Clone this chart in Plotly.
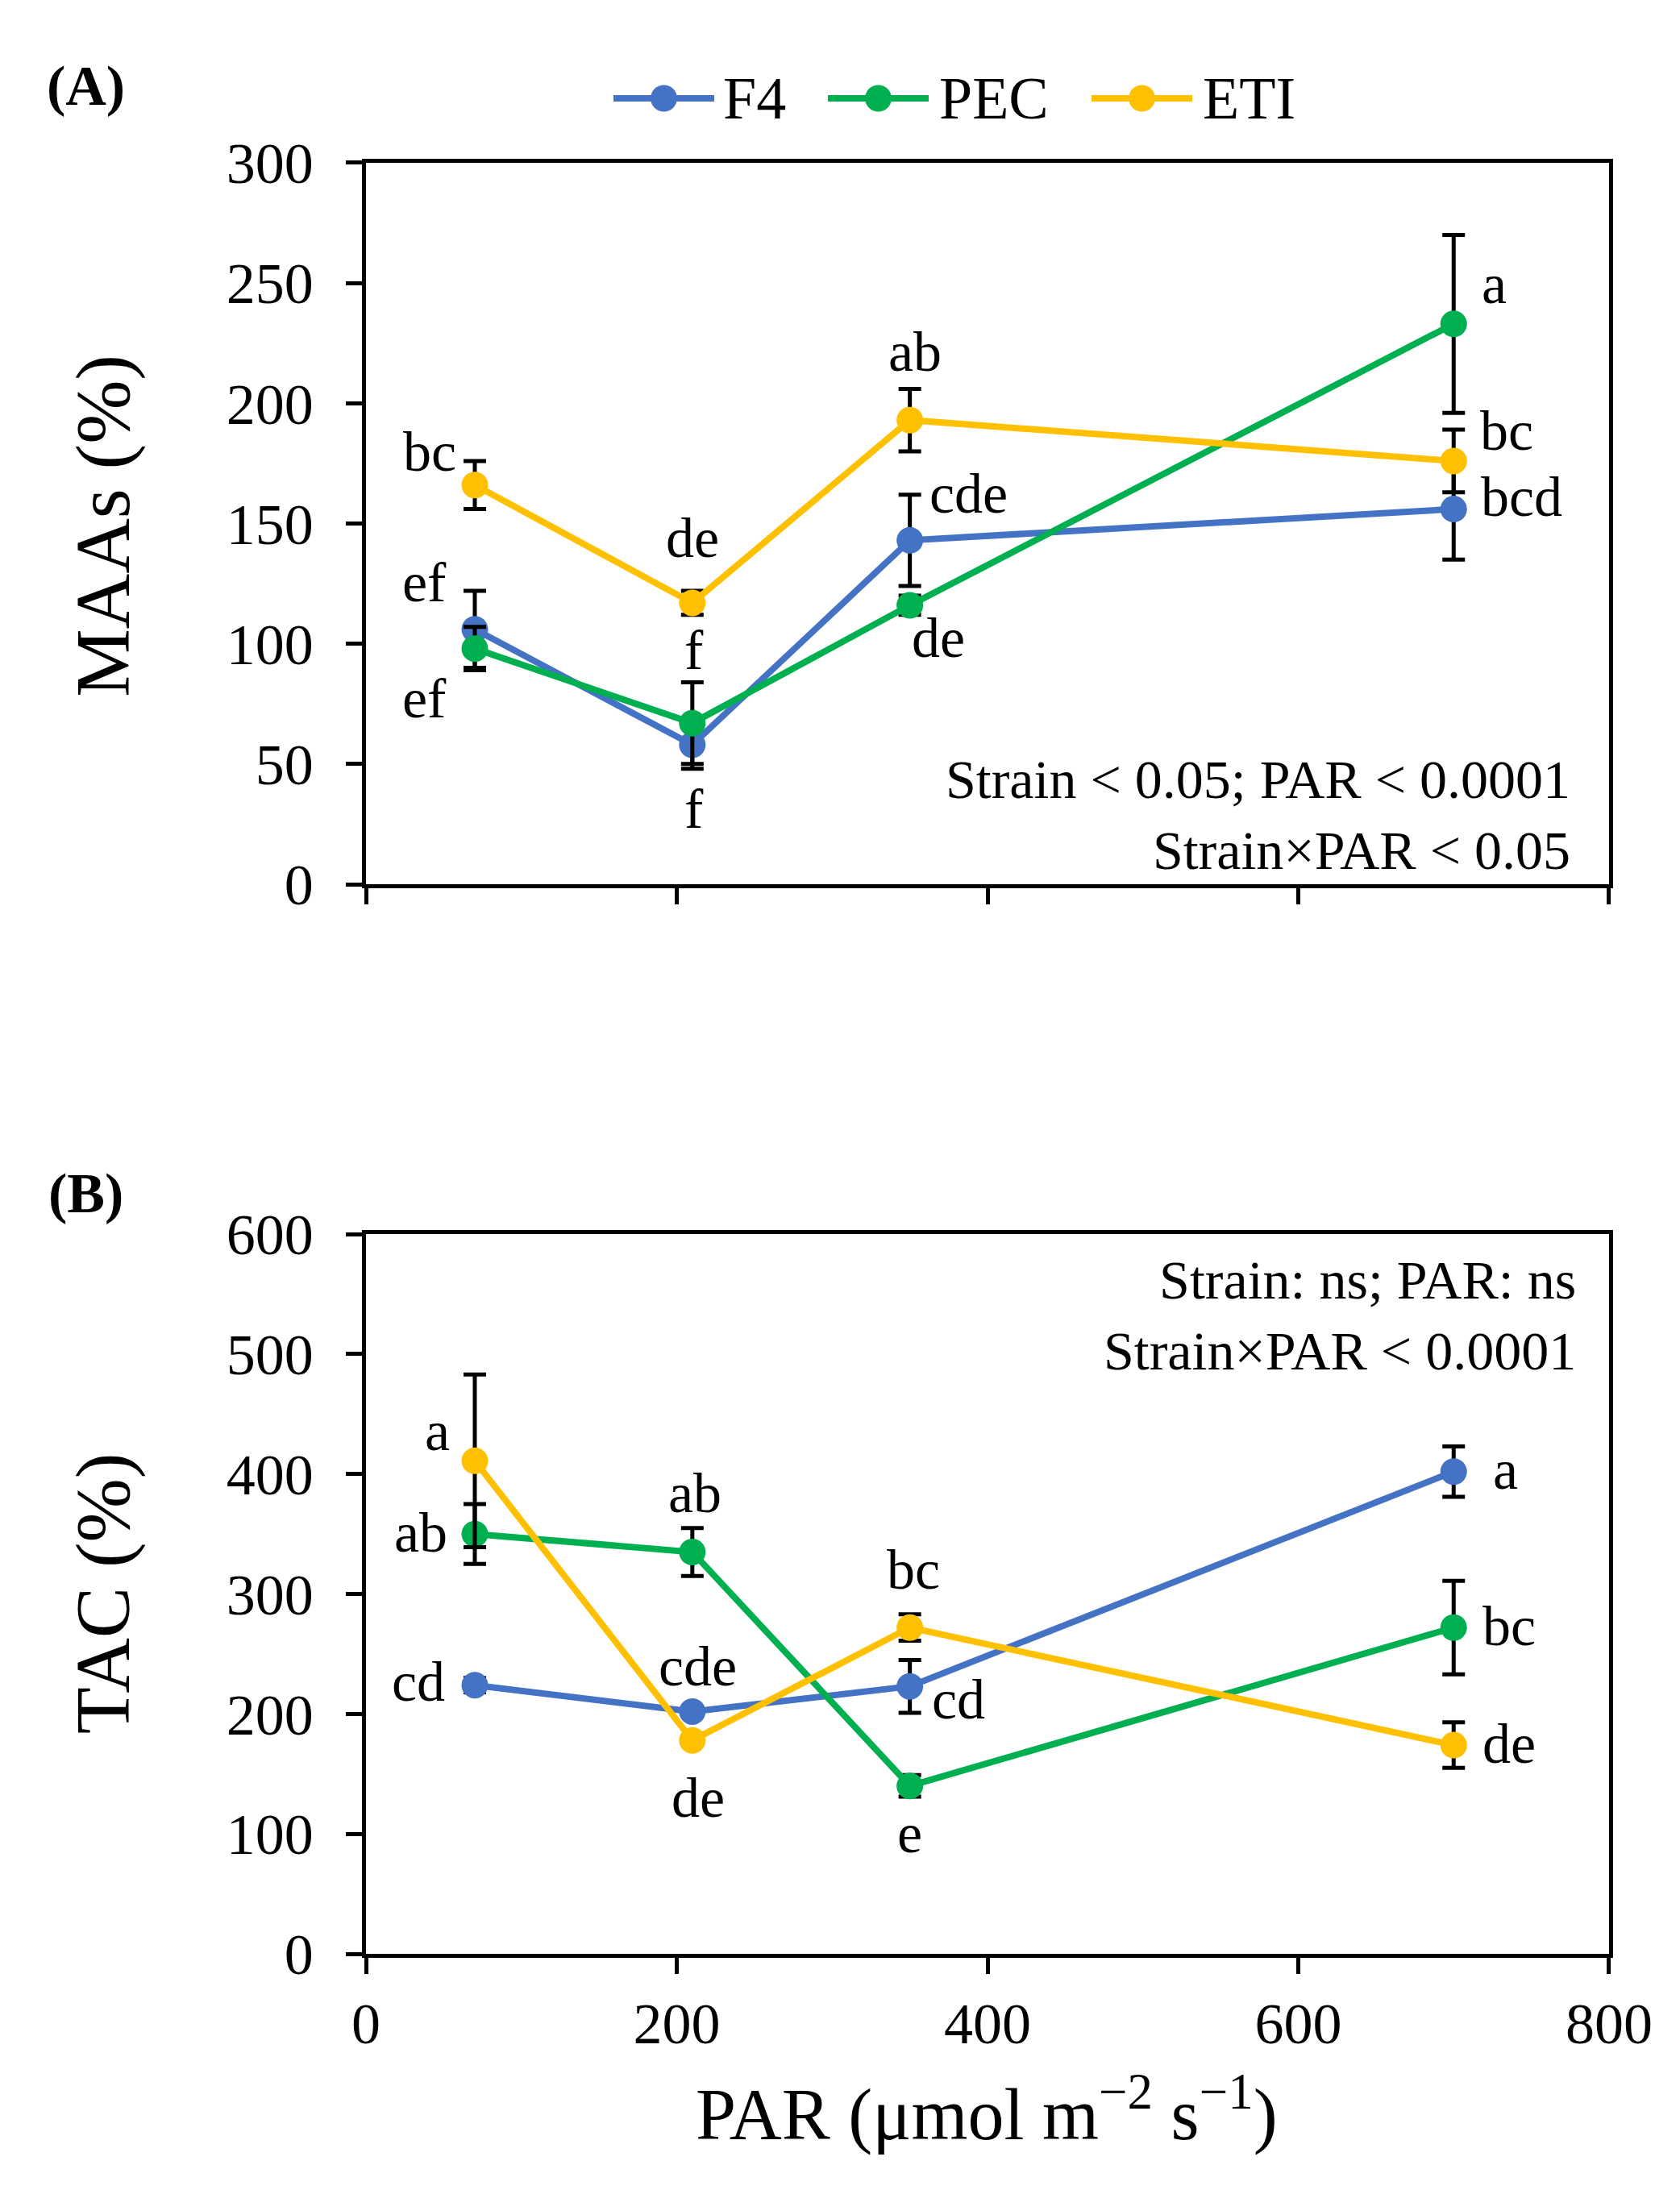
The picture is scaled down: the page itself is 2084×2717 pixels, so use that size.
import plotly.graph_objects as go
from plotly.subplots import make_subplots

# data
par = [70, 210, 350, 700]
strains = ['F4', 'PEC', 'ETI']

maa_f4 = [106, 58, 143, 156]
maa_pec = [98, 67, 116, 233]
maa_eti = [166, 117, 193, 176]
maa_f4_err = [16, 10, 19, 21]
maa_pec_err = [9, 17, 4, 37]
maa_eti_err = [10, 5, 13, 13]

tac_f4 = [224, 202, 223, 402]
tac_pec = [350, 335, 140, 272]
tac_eti = [411, 178, 272, 174]
tac_f4_err = [6, 4, 22, 21]
tac_pec_err = [25, 20, 9, 39]
tac_eti_err = [72, 4, 11, 19]

maa_f4_let = ['ef', 'f', 'cde', 'bcd']
maa_pec_let = ['ef', 'f', 'de', 'a']
maa_eti_let = ['bc', 'de', 'ab', 'bc']
tac_f4_let = ['cd', 'cde', 'cd', 'a']
tac_pec_let = ['ab', 'ab', 'e', 'bc']
tac_eti_let = ['a', 'de', 'bc', 'de']

maa_stats = 'Strain < 0.05; PAR < 0.0001<br>Strain×PAR < 0.05'
tac_stats = 'Strain: ns; PAR: ns<br>Strain×PAR < 0.0001'

# styling
colors = {'F4': '#4472C4', 'PEC': '#00B050', 'ETI': '#FFC000'}
FONT = 'Liberation Serif'
W, H = 2068, 2701
LINE_W = 8
MARK = 33

# letter offsets (px, right / down) for each point
maa_off = {
    'F4': [(-62, -58), (2, 80), (73, -58), (84, -15)],
    'PEC': [(-62, 62), (2, -91), (35, 41), (50, -49)],
    'ETI': [(-56, -41), (0, -80), (6, -85), (66, -37)],
}
tac_off = {
    'F4': [(-70, -4), (7, -56), (60, 16), (64, -2)],
    'PEC': [(-67, -2), (3, -73), (0, 59), (69, -2)],
    'ETI': [(-46, -37), (7, 71), (4, -72), (69, -2)],
}

# legend layout (figure px): line start/end, text left
legend_pos = {'F4': (753, 878, 887), 'PEC': (1019, 1144, 1155), 'ETI': (1346, 1471, 1482)}
legend_y = 1 - 114 / H

fig = make_subplots(rows=2, cols=1)

panels = [
    (1, [maa_f4, maa_pec, maa_eti], [maa_f4_err, maa_pec_err, maa_eti_err],
     [maa_f4_let, maa_pec_let, maa_eti_let], maa_off),
    (2, [tac_f4, tac_pec, tac_eti], [tac_f4_err, tac_pec_err, tac_eti_err],
     [tac_f4_let, tac_pec_let, tac_eti_let], tac_off),
]

for row, vals, errs, lets, offs in panels:
    for name, y, e, lab in zip(strains, vals, errs, lets):
        fig.add_trace(go.Scatter(
            x=par, y=y, mode='lines+markers', name=name, showlegend=False,
            line=dict(color=colors[name], width=LINE_W),
            marker=dict(color=colors[name], size=MARK),
            error_y=dict(type='data', array=e, visible=True, color='black',
                         thickness=5, width=14),
        ), row=row, col=1)
        for xi, yi, t, (dx, dy) in zip(par, y, lab, offs[name]):
            fig.add_annotation(x=xi, y=yi, text=t, showarrow=False,
                               xshift=dx, yshift=-dy, xanchor='center', yanchor='middle',
                               font=dict(family=FONT, size=70, color='black'),
                               row=row, col=1)

# legend drawn as line + dot + label, like the Excel one
for name in strains:
    x0, x1, xt = legend_pos[name]
    fig.add_shape(type='line', xref='paper', yref='paper', x0=x0 / W, x1=x1 / W,
                  y0=legend_y, y1=legend_y, line=dict(color=colors[name], width=LINE_W))
    fig.add_shape(type='circle', xref='paper', yref='paper',
                  xsizemode='pixel', ysizemode='pixel',
                  xanchor=(x0 + x1) / 2 / W, yanchor=legend_y,
                  x0=-MARK / 2, x1=MARK / 2, y0=-MARK / 2, y1=MARK / 2,
                  fillcolor=colors[name], line=dict(width=0))
    fig.add_annotation(x=xt / W, y=legend_y, xref='paper', yref='paper', text=name,
                       showarrow=False, xanchor='left', yanchor='middle',
                       font=dict(family=FONT, size=74, color='black'))

axis_style = dict(showline=True, linecolor='black', linewidth=5, mirror=True,
                  ticks='outside', ticklen=20, tickwidth=5, tickcolor='black',
                  showgrid=False, zeroline=False, automargin=False,
                  tickfont=dict(family=FONT, size=72, color='black'))

fig.update_xaxes(axis_style, range=[0, 800], dtick=200, domain=[0.2157, 0.9613])
fig.update_xaxes(showticklabels=False, row=1, col=1)
fig.update_xaxes(ticklabelstandoff=0, row=2, col=1)
fig.update_yaxes(axis_style, ticklabelstandoff=26)
fig.update_yaxes(range=[0, 300], dtick=50, domain=[0.5968, 0.9282], row=1, col=1)
fig.update_yaxes(range=[0, 600], dtick=100, domain=[0.1055, 0.4361], row=2, col=1)

label_font = dict(family=FONT, size=70, color='black')
title_font = dict(family=FONT, size=95, color='black')

# titles and panel labels
fig.add_annotation(x=0.0475, y=0.9637, xref='paper', yref='paper', text='<b>(A)</b>',
                   showarrow=False, xanchor='center', yanchor='middle', font=label_font)
fig.add_annotation(x=0.0475, y=0.4550, xref='paper', yref='paper', text='<b>(B)</b>',
                   showarrow=False, xanchor='center', yanchor='middle', font=label_font)
fig.add_annotation(x=0.058, y=0.7616, xref='paper', yref='paper', text='MAAs (%)',
                   textangle=-90, showarrow=False, xanchor='center', yanchor='middle',
                   font=title_font)
fig.add_annotation(x=0.058, y=0.2713, xref='paper', yref='paper', text='TAC (%)',
                   textangle=-90, showarrow=False, xanchor='center', yanchor='middle',
                   font=title_font)
fig.add_annotation(x=0.5880, y=0.0340, xref='paper', yref='paper',
                   text='PAR (μmol m<sup>−2</sup> s<sup>−1</sup>)', showarrow=False,
                   xanchor='center', yanchor='middle',
                   font=dict(family=FONT, size=90, color='black'))

fig.add_annotation(x=0.970, y=0.096, xref='x domain', yref='y domain', text=maa_stats,
                   showarrow=False, xanchor='right', yanchor='middle', align='right',
                   font=dict(family=FONT, size=68, color='black'))
fig.add_annotation(x=0.975, y=0.887, xref='x2 domain', yref='y2 domain', text=tac_stats,
                   showarrow=False, xanchor='right', yanchor='middle', align='right',
                   font=dict(family=FONT, size=68, color='black'))

fig.update_layout(
    width=W, height=H,
    margin=dict(l=0, r=0, t=0, b=0, autoexpand=False),
    plot_bgcolor='white', paper_bgcolor='white',
    font=dict(family=FONT, color='black'),
    showlegend=False,
)

fig.write_html("out.html")
